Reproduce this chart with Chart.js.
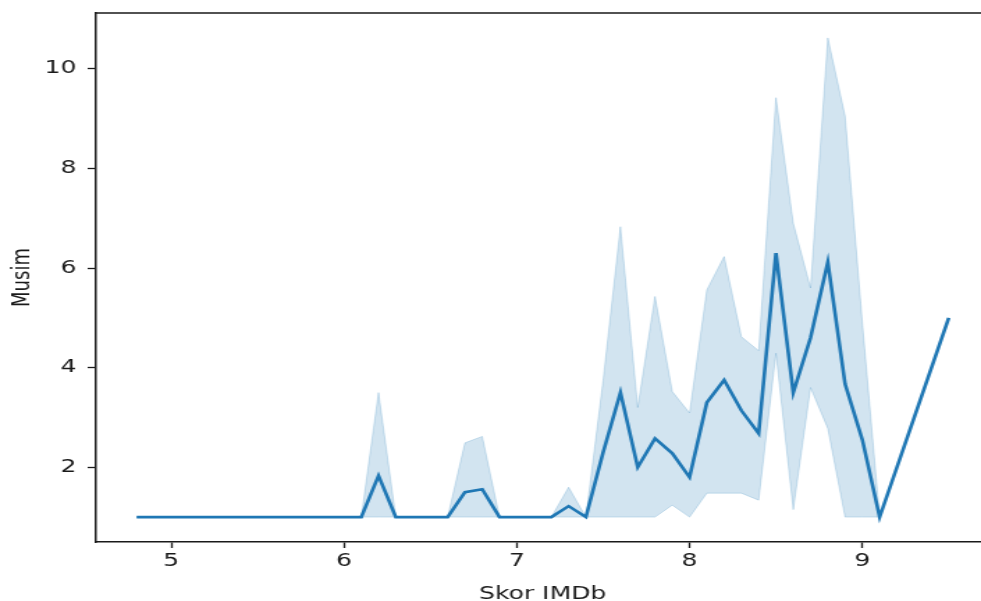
<!DOCTYPE html>
<html lang="id">
<head>
    <meta charset="utf-8">
    <title>Musim vs Skor IMDb</title>
    <style>
        html, body { margin: 0; padding: 0; background: #fff; overflow: hidden; }
        /* figure is drawn narrow and stretched sideways */
        #wrap { width: 720px; height: 601px; transform: scaleX(1.3915); transform-origin: 0 0; }
    </style>
</head>
<body>
    <div id="wrap">
        <canvas id="myChart" width="720" height="601"></canvas>
    </div>
    <script src="https://cdn.jsdelivr.net/npm/chart.js"></script>
    <script>
        // Skor IMDb on x, mean number of seasons (Musim) with 95% CI band
        const skor = [4.8, 4.9, 5.0, 5.1, 5.2, 5.3, 5.4, 5.5, 5.6, 5.7, 5.8, 5.9, 6.0, 6.1,
            6.2, 6.3, 6.4, 6.5, 6.6, 6.7, 6.8, 6.9, 7.0, 7.1, 7.2, 7.3, 7.4, 7.5, 7.6, 7.7,
            7.8, 7.9, 8.0, 8.1, 8.2, 8.3, 8.4, 8.5, 8.6, 8.7, 8.8, 8.9, 9.0, 9.1, 9.5]
        const musim = [1, 1, 1, 1, 1, 1, 1, 1, 1, 1, 1, 1, 1, 1,
            1.83, 1, 1, 1, 1, 1.5, 1.56, 1, 1, 1, 1, 1.22, 1, 2.3, 3.5, 2.0,
            2.58, 2.28, 1.8, 3.3, 3.75, 3.14, 2.68, 6.3, 3.5, 4.6, 6.12, 3.67, 2.55, 1, 5]
        const ci_atas = [1, 1, 1, 1, 1, 1, 1, 1, 1, 1, 1, 1, 1, 1,
            3.5, 1, 1, 1, 1, 2.49, 2.62, 1, 1, 1, 1, 1.6, 1, 3.75, 6.83, 3.2,
            5.43, 3.52, 3.09, 5.56, 6.23, 4.62, 4.34, 9.42, 6.9, 5.6, 10.62, 9.05, 4.9, 1, 5]
        const ci_bawah = [1, 1, 1, 1, 1, 1, 1, 1, 1, 1, 1, 1, 1, 1,
            1, 1, 1, 1, 1, 1, 1, 1, 1, 1, 1, 1, 1, 1, 1, 1,
            1, 1.24, 1, 1.48, 1.48, 1.48, 1.34, 4.29, 1.15, 3.6, 2.78, 1, 1, 1, 5]
        const x_ticks = [5, 6, 7, 8, 9]
        const y_ticks = [2, 4, 6, 8, 10]

        const points = (ys) => skor.map((x, i) => ({ x: x, y: ys[i] }))

        const blue = '#1f77b4'
        const band = 'rgba(31, 119, 180, 0.2)'
        const ink = '#1a1a1a'
        const tick_font = { family: 'DejaVu Sans', size: 18 }

        // top/right spines, matplotlib style box
        const frame = {
            id: 'frame',
            afterDatasetsDraw(chart) {
                const { ctx, chartArea: a } = chart
                ctx.save()
                ctx.strokeStyle = ink
                ctx.lineWidth = 1.5
                ctx.beginPath()
                ctx.moveTo(a.left, a.top)
                ctx.lineTo(a.right, a.top)
                ctx.lineTo(a.right, a.bottom)
                ctx.stroke()
                ctx.restore()
            }
        }

        const config = {
            type: 'line',
            data: {
                datasets: [
                    {
                        label: 'Musim',
                        data: points(musim),
                        borderColor: blue,
                        borderWidth: 2.6,
                        pointRadius: 0,
                        fill: false,
                        order: 0
                    },
                    {
                        label: 'ci_atas',
                        data: points(ci_atas),
                        borderColor: band,
                        backgroundColor: band,
                        borderWidth: 1,
                        pointRadius: 0,
                        fill: '+1',
                        order: 1
                    },
                    {
                        label: 'ci_bawah',
                        data: points(ci_bawah),
                        borderColor: band,
                        borderWidth: 1,
                        pointRadius: 0,
                        fill: false,
                        order: 2
                    }
                ]
            },
            options: {
                responsive: false,
                animation: false,
                layout: { padding: { top: 13, right: 9, left: 0, bottom: 0 } },
                plugins: {
                    legend: { display: false },
                    tooltip: { enabled: false }
                },
                scales: {
                    x: {
                        type: 'linear',
                        min: 4.565,
                        max: 9.735,
                        afterBuildTicks: (s) => { s.ticks = x_ticks.map(v => ({ value: v })) },
                        afterFit: (s) => { s.height = 59; s.paddingLeft = 0; s.paddingRight = 0 },
                        ticks: { autoSkip: false, maxRotation: 0, padding: 3, color: ink, font: tick_font },
                        grid: { drawOnChartArea: false, drawTicks: true, tickLength: 6, tickColor: ink, tickWidth: 1.3 },
                        border: { display: true, color: ink, width: 1.5 },
                        title: { display: true, text: 'Skor IMDb', color: ink, font: tick_font, padding: { top: 0, bottom: -4 } }
                    },
                    y: {
                        type: 'linear',
                        min: 0.5,
                        max: 11.12,
                        afterBuildTicks: (s) => { s.ticks = y_ticks.map(v => ({ value: v })) },
                        // fixed axis box; label overhang should not push the plot area
                        afterFit: (s) => { s.width = 69; s.paddingTop = 0; s.paddingBottom = 0 },
                        ticks: { autoSkip: false, padding: 8, color: ink, font: tick_font },
                        grid: { drawOnChartArea: false, drawTicks: true, tickLength: 6, tickColor: ink, tickWidth: 1.3 },
                        border: { display: true, color: ink, width: 1.5 },
                        title: { display: true, text: 'Musim', color: ink, font: tick_font, padding: { top: 6, bottom: 0 } }
                    }
                }
            },
            plugins: [frame]
        }

        const ctx = document.getElementById('myChart').getContext('2d')
        const chart_object = new Chart(ctx, config)
    </script>
</body>
</html>
